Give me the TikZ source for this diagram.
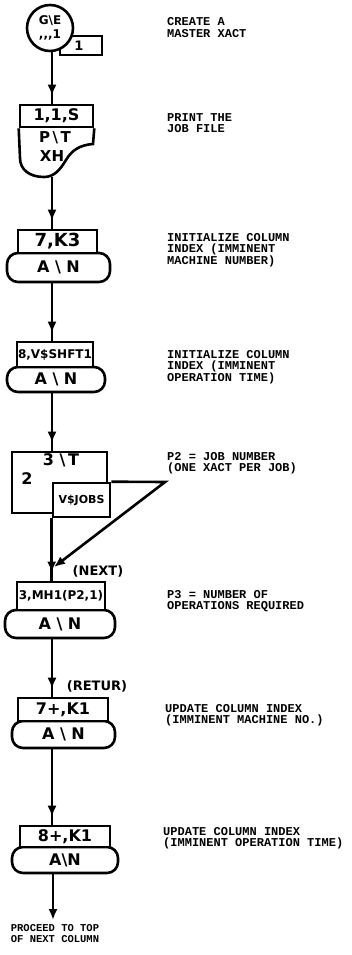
\documentclass[tikz,border=0pt]{standalone}
\usepackage{fontspec}
\newfontfamily\handfont{DejaVu Sans}
\newfontfamily\typefont{Liberation Mono}
\usepackage{tikz}
\usetikzlibrary{positioning,arrows.meta,decorations.markings,calc}

\newcommand\handsz[1]{\fontsize{#1}{#1}\selectfont}
\newcommand\bsl{\textbackslash}

\begin{document}
\begin{tikzpicture}[
    x=1pt, y=-1pt,
    hbox/.style={
      draw,
      line width=2.6pt,
      fill=white,
      inner sep=0pt,
      font=\handfont\bfseries\handsz{16}
    },
    hround/.style={
      hbox,
      rounded corners=11pt
    },
    hnote/.style={
      inner sep=0pt,
      font=\handfont\bfseries\handsz{13}
    },
    note/.style={
      inner sep=0pt,
      anchor=west,
      align=left,
      font=\typefont\bfseries\fontsize{12}{11.5}\selectfont
    },
    wire/.style={
      line width=2.6pt
    },
    flow/.style={
      wire,
      postaction={decorate},
      decoration={markings,
        mark=at position -8pt with {\arrow{Latex[length=11pt,width=9pt]}}}
    },
    tip/.style={
      -{Latex[length=11pt,width=9pt]}
    }
  ]
    \useasboundingbox (0,0) rectangle (352,955);
    \coordinate (spine) at (52,0);

    % generate
    \node[hbox, minimum width=42, minimum height=19, font=\handfont\bfseries\handsz{13}]
      (genf) at (81,45.5) {\hspace{-4pt}1};
    \node[hbox, circle, minimum size=46, align=center, font=\handfont\bfseries\handsz{12}]
      (gen) at (50,28) {G\bsl E\\[2pt],,,1};
    \node[note] (tcreate) at (167,27.5) {CREATE A\\MASTER XACT};

    % print
    \node[hbox, minimum width=73, minimum height=22] (prt) at (56.5,116) {1,1,S};
    \draw[wire] (prt.south west) -- (20,158)
      .. controls (20,170) and (30,177) .. (44,177)
      .. controls (54,177) and (60,170) .. (66,160)
      .. controls (72,150) and (80,145) .. (93,144) -- (prt.south east);
    \node[hnote, font=\handfont\bfseries\handsz{15}] (prtt) at (55,138) {P\,\bsl\,T};
    \node[hnote, font=\handfont\bfseries\handsz{15}] (prtx) at (52,156) {XH};
    \coordinate (prtbot) at (52,176.5);
    \node[note] (tprint) at (167,123) {PRINT THE\\JOB FILE};

    % assign 7
    \node[hround, minimum width=103, minimum height=29] (kthreeb) at (58.5,267.5) {A \bsl\ N};
    \node[hbox, minimum width=79, minimum height=23, font=\handfont\bfseries\handsz{18}]
      (kthree) at (57.5,241.5) {7,K3};
    \node[note] (tkthree) at (167,250) {INITIALIZE COLUMN\\INDEX (IMMINENT\\MACHINE NUMBER)};

    % assign 8
    \node[hround, minimum width=98, minimum height=25] (shftb) at (56,379.5) {A \bsl\ N};
    \node[hbox, minimum width=76, minimum height=25, font=\handfont\bfseries\handsz{12}]
      (shft) at (55,354.5) {8,V\$SHFT1};
    \node[note] (tshft) at (167,367) {INITIALIZE COLUMN\\INDEX (IMMINENT\\OPERATION TIME)};

    % assign jobs
    \node[hbox, minimum width=95, minimum height=61] (savx) at (59.5,482.5) {};
    \node[hnote, font=\handfont\bfseries\handsz{16}] (savt) at (61,460) {3 \bsl\,T};
    \node[hnote, font=\handfont\bfseries\handsz{16}] (savn) at (27,479) {2};
    \node[hbox, minimum width=57, minimum height=34, font=\handfont\bfseries\handsz{11}]
      (jobs) at (81.5,500) {V\$JOBS};
    \coordinate (apex) at (165,482);
    \coordinate (merge) at (54,567);
    \node[note] (tjobs) at (167,463) {P2 = JOB NUMBER\\(ONE XACT PER JOB)};

    % assign 3
    \node[hround, minimum width=110, minimum height=28] (mhb) at (60,624) {A \bsl\ N};
    \node[hbox, minimum width=88, minimum height=28, font=\handfont\bfseries\handsz{12}]
      (mh) at (61,596) {3,MH1(P2,1)};
    \node[hnote] (lnext) at (98,571) {(NEXT)};
    \node[note] (tmh) at (167,601) {P3 = NUMBER OF\\OPERATIONS REQUIRED};

    % update 7
    \node[hround, minimum width=103, minimum height=27] (koneb) at (63.5,734.5) {A \bsl\ N};
    \node[hbox, minimum width=90, minimum height=23] (kone) at (63,709.5) {7+,K1};
    \node[hnote] (lretur) at (97,686) {(RETUR)};
    \node[note] (tkone) at (165,715) {UPDATE COLUMN INDEX\\(IMMINENT MACHINE NO.)};

    % update 8
    \node[hround, minimum width=106, minimum height=26] (kthrb) at (65,860) {A\bsl N};
    \node[hbox, minimum width=90, minimum height=21] (kthr) at (65,836.5) {8+,K1};
    \node[note] (tkthr) at (163,838) {UPDATE COLUMN INDEX\\(IMMINENT OPERATION TIME)};

    \coordinate (out) at (53,920);
    \node[note, anchor=north, align=center, font=\typefont\bfseries\fontsize{10.5}{11}\selectfont]
      (tout) at (55,924) {PROCEED TO TOP\\OF NEXT COLUMN};

    % connectors
    \draw[flow] (gen.south -| spine) -- (prt.north -| spine);
    \draw[flow] (prtbot) -- (kthree.north -| spine);
    \draw[flow] (kthreeb.south -| spine) -- (shft.north -| spine);
    \draw[flow] (shftb.south -| spine) -- (savx.north -| spine);
    \draw[flow] (jobs.south west) -- (jobs.south west |- mh.north);
    \draw[wire, tip] (jobs.north east) -- (apex) -- (merge);
    \draw[flow] (mhb.south -| spine) -- (kone.north -| spine);
    \draw[flow] (koneb.south -| spine) -- (kthr.north -| spine);
    \draw[wire, tip] (kthrb.south -| out) -- (out);
  \end{tikzpicture}
\end{document}
